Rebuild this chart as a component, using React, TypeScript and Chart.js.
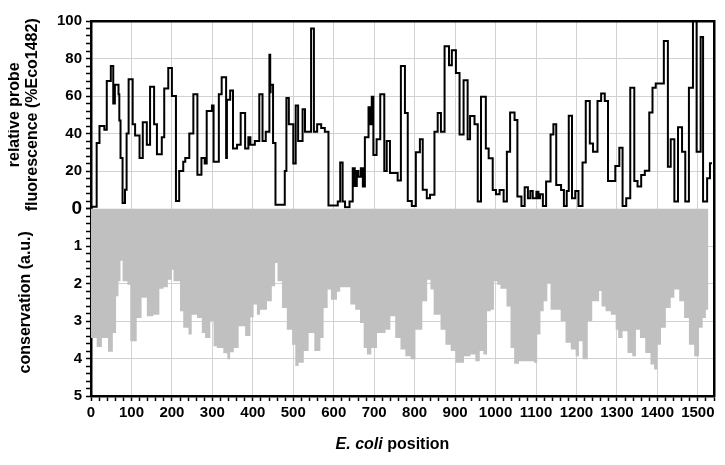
import React, { useEffect, useRef } from 'react';
import { Chart, registerables } from 'chart.js';

Chart.register(...registerables);

// ---- data ----
const fluorPos = [
  0, 14, 21, 33, 39, 49, 55, 56, 57, 59, 68, 70, 73, 78, 84, 88, 93, 103, 109, 120,
  128, 138, 146, 156, 163, 175, 181, 191, 200, 210, 218, 228, 233, 243, 253, 263, 273, 281, 286, 299,
  303, 316, 323, 334, 336, 344, 351, 361, 370, 381, 389, 394, 405, 416, 424, 432, 441, 443, 444, 450,
  456, 479, 483, 489, 500, 506, 512, 523, 529, 544, 551, 559, 569, 578, 587, 610, 616, 622, 628, 639,
  647, 652, 657, 661, 667, 672, 677, 686, 690, 694, 698, 706, 715, 725, 731, 739, 758, 766, 776, 783,
  793, 803, 813, 820, 830, 838, 849, 857, 865, 874, 885, 892, 902, 911, 921, 931, 937, 948, 956, 964,
  976, 983, 993, 1001, 1010, 1020, 1028, 1036, 1047, 1054, 1064, 1072, 1080, 1086, 1092, 1101, 1106, 1110, 1117, 1125,
  1136, 1143, 1150, 1162, 1169, 1176, 1181, 1189, 1197, 1205, 1215, 1223, 1233, 1241, 1252, 1261, 1270, 1278, 1296, 1306,
  1314, 1323, 1333, 1343, 1351, 1360, 1369, 1380, 1388, 1396, 1416, 1426, 1433, 1442, 1451, 1461, 1469, 1478, 1488, 1497,
  1507, 1513, 1523, 1530, 1535,
];
const fluorVal = [
  1, 35, 44, 42, 68, 76, 56, 64, 56, 66, 61, 47, 27, 3, 10, 40, 69, 45, 39, 27,
  46, 34, 65, 45, 29, 38, 64, 75, 60, 4, 20, 25, 27, 40, 61, 18, 27, 24, 52, 55,
  25, 61, 70, 27, 58, 63, 32, 34, 51, 32, 38, 34, 36, 61, 36, 41, 82, 62, 66, 35,
  2, 20, 59, 45, 24, 55, 36, 53, 41, 96, 41, 45, 43, 41, 1.6, 3.7, 24.6, 3.7, 0.7, 3.7,
  21.5, 12, 20, 17, 21.5, 11.7, 38, 54, 45, 59.6, 28.5, 37, 61, 20, 36, 19, 15, 76, 51, 4,
  1.4, 30, 37, 10, 5.5, 7.3, 41, 51, 41, 86.5, 76.4, 84.4, 72.3, 39.5, 68.4, 37, 49.3, 45, 3.7, 59.6,
  32, 26.8, 9.9, 7.6, 9.9, 3.7, 30.3, 51.2, 47.2, 6.4, 1.4, 11.3, 5.5, 9.4, 5.5, 9, 5.5, 7.6, 1.4, 14.4,
  39.5, 45, 12.6, 9.9, 1.4, 9.4, 49.5, 5.5, 9.4, 1.4, 24.6, 57.3, 34.7, 30.3, 57.3, 61.3, 57.3, 14.7, 22.7, 32.4,
  1.4, 5.5, 64.4, 14.7, 11.7, 17.9, 20.2, 51.2, 64.4, 66.7, 89.4, 22.3, 37, 3.7, 43.3, 30.3, 3.7, 64.4, 100, 30.3,
  91.5, 3.7, 16.1, 24.1, 24.1,
];

const consPos = [
  0, 14, 27, 42, 54, 62, 68, 73, 78, 90, 97, 113, 125, 138, 154, 169, 179, 190, 200, 204,
  220, 228, 241, 249, 262, 274, 282, 295, 303, 311, 327, 337, 344, 353, 365, 381, 394, 402, 410, 418,
  435, 447, 455, 461, 472, 484, 497, 505, 513, 526, 538, 552, 567, 575, 585, 593, 608, 616, 641, 653,
  665, 674, 682, 693, 707, 728, 740, 752, 765, 777, 790, 802, 819, 831, 839, 847, 864, 876, 889, 901,
  922, 938, 950, 961, 970, 979, 988, 996, 1004, 1012, 1027, 1037, 1046, 1058, 1095, 1103, 1111, 1119, 1128, 1136,
  1161, 1173, 1186, 1198, 1206, 1215, 1228, 1239, 1256, 1262, 1272, 1285, 1297, 1303, 1314, 1326, 1338, 1347, 1357, 1370,
  1383, 1392, 1400, 1409, 1421, 1433, 1442, 1454, 1466, 1478, 1491, 1503, 1512, 1520, 1526,
];
const consVal = [
  3.45, 3.69, 3.45, 3.82, 3.32, 2.34, 1.94, 1.39, 1.94, 2.03, 3.54, 2.92, 2.38, 2.87, 2.83, 2.14, 2.1, 1.9, 1.63, 1.94,
  2.74, 3.18, 3.36, 2.83, 2.92, 3.32, 3.45, 3.0, 3.67, 3.72, 3.86, 4.02, 3.83, 3.72, 3.14, 3.4, 2.9, 2.56, 2.83, 2.7,
  2.47, 2.07, 1.45, 1.94, 2.65, 3.23, 3.63, 4.2, 4.11, 3.8, 3.32, 3.8, 3.45, 2.65, 2.16, 2.43, 2.22, 2.1, 2.56, 2.7,
  3.05, 3.72, 3.89, 3.72, 3.32, 3.23, 2.87, 3.45, 3.76, 3.94, 4.02, 3.23, 2.47, 1.9, 2.16, 2.83, 3.23, 3.63, 3.8, 4.11,
  3.94, 3.89, 4.07, 3.8, 3.89, 2.74, 2.7, 1.94, 2.03, 2.14, 2.61, 3.72, 4.14, 4.07, 4.11, 3.36, 2.74, 2.47, 1.99, 2.7,
  3.0, 3.58, 3.76, 3.94, 3.54, 4.02, 3.0, 2.47, 2.2, 2.61, 2.74, 2.83, 3.23, 3.45, 3.27, 3.85, 3.94, 3.23, 3.45, 3.85,
  4.16, 4.29, 3.63, 3.18, 2.65, 2.38, 2.16, 2.47, 2.92, 3.63, 3.94, 3.18, 2.92, 2.7, 2.7,
];

// axis ticks: major (labelled) and minor steps
const xMajor = 100;
const xMinor = 20;
const fluorMajor = 20;
const fluorMinor = 4;
const consMajor = 1;
const consMinor = 0.2;

const X_MAX = 1540;
const FONT = '"Liberation Sans", Arial, Helvetica, sans-serif';
const GRID = '#d2d2d2';
const CLEAR = 'rgba(0,0,0,0)';

function stepTicks(min: number, max: number, step: number) {
  const out: { value: number }[] = [];
  const n = Math.round((max - min) / step);
  for (let i = 0; i <= n; i++) out.push({ value: Math.round((min + i * step) * 1000) / 1000 });
  return out;
}
function isMajor(v: number, major: number) {
  const r = v / major;
  return Math.abs(r - Math.round(r)) < 1e-6;
}

const xTitlePlugin = {
  id: 'xTitle',
  afterDraw(chart: any) {
    const ctx = chart.ctx;
    const area = chart.chartArea;
    const part1 = 'E. coli';
    const part2 = ' position';
    const f1 = 'italic bold 16px ' + FONT;
    const f2 = 'bold 16px ' + FONT;
    ctx.save();
    ctx.font = f1;
    const w1 = ctx.measureText(part1).width;
    ctx.font = f2;
    const w2 = ctx.measureText(part2).width;
    const cx = (area.left + area.right) / 2 - 10;
    const ty = 437;
    const startX = cx - (w1 + w2) / 2;
    ctx.fillStyle = '#000';
    ctx.textBaseline = 'middle';
    ctx.textAlign = 'left';
    ctx.font = f1;
    ctx.fillText(part1, startX, ty);
    ctx.font = f2;
    ctx.fillText(part2, startX + w1, ty);
    ctx.restore();
  },
};

const border = { display: true, color: '#000', width: 2.5 };

export default function App() {
  const ref = useRef<HTMLCanvasElement | null>(null);
  useEffect(() => {
    if (!ref.current) return;
    const chart = new Chart(ref.current, {
      type: 'line',
      data: {
        datasets: [
          {
            label: 'fluorescence',
            data: fluorPos.map((p, i) => ({ x: p, y: fluorVal[i] })),
            xAxisID: 'x',
            yAxisID: 'yTop',
            stepped: true,
            borderColor: '#000',
            borderWidth: 2,
            pointRadius: 0,
            fill: false,
          },
          {
            label: 'conservation',
            data: consPos.map((p, i) => ({ x: p, y: consVal[i] })),
            xAxisID: 'x',
            yAxisID: 'yBot',
            stepped: true,
            borderColor: CLEAR,
            borderWidth: 0,
            backgroundColor: '#c0c0c0',
            pointRadius: 0,
            fill: 'origin',
          },
        ],
      },
      options: {
        animation: false,
        responsive: false,
        maintainAspectRatio: false,
        layout: { padding: { top: 12, right: 3, left: 0, bottom: 0 } },
        plugins: { legend: { display: false }, tooltip: { enabled: false } },
        scales: {
          x: {
            type: 'linear',
            position: 'bottom',
            min: 0,
            max: X_MAX,
            afterBuildTicks: (axis: any) => {
              axis.ticks = stepTicks(0, X_MAX, xMinor);
            },
            afterFit: (axis: any) => {
              axis.height = 61;
            },
            ticks: {
              autoSkip: false,
              maxRotation: 0,
              padding: 3,
              color: '#000',
              font: { family: FONT, size: 15, weight: 'bold' },
              callback: (v: any) => (isMajor(v, xMajor) ? String(v) : ''),
            },
            grid: {
              drawTicks: true,
              tickLength: 5,
              tickWidth: 1.5,
              tickColor: '#000',
              color: (c: any) =>
                c.tick && isMajor(c.tick.value, xMajor) && c.tick.value !== 0 ? GRID : CLEAR,
            },
            border,
          },
          xTop: {
            type: 'linear',
            position: 'top',
            display: true,
            min: 0,
            max: X_MAX,
            afterFit: (axis: any) => {
              axis.height = 0;
            },
            ticks: { display: false },
            grid: { display: false, drawTicks: false },
            border,
          },
          yRight: {
            type: 'linear',
            position: 'right',
            display: true,
            min: 0,
            max: 1,
            afterFit: (axis: any) => {
              axis.width = 0;
            },
            ticks: { display: false },
            grid: { display: false, drawTicks: false },
            border,
          },
          yBot: {
            type: 'linear',
            position: 'left',
            stack: 'panels',
            stackWeight: 1,
            reverse: true,
            min: 0,
            max: 5,
            afterBuildTicks: (axis: any) => {
              axis.ticks = stepTicks(0, 5, consMinor);
            },
            afterFit: (axis: any) => {
              axis.width = 83;
            },
            ticks: {
              autoSkip: false,
              padding: 4,
              color: '#000',
              font: (c: any) =>
                c.tick && c.tick.value === 0
                  ? { family: FONT, size: 19, weight: 'bold' }
                  : { family: FONT, size: 15, weight: 'bold' },
              callback: (v: any) => (isMajor(v, consMajor) ? String(v) : ''),
            },
            grid: {
              drawTicks: true,
              tickLength: 5,
              tickWidth: 1.5,
              tickColor: '#000',
              color: (c: any) =>
                c.tick && isMajor(c.tick.value, consMajor) && c.tick.value !== 0 && c.tick.value !== 5
                  ? GRID
                  : CLEAR,
            },
            border,
            title: {
              display: true,
              text: 'conservation (a.u.)',
              color: '#000',
              font: { family: FONT, size: 16, weight: 'bold', lineHeight: 1.1 },
              padding: { top: 9, bottom: 0 },
            },
          },
          yTop: {
            type: 'linear',
            position: 'left',
            stack: 'panels',
            stackWeight: 1,
            min: 0,
            max: 100,
            afterBuildTicks: (axis: any) => {
              axis.ticks = stepTicks(0, 100, fluorMinor);
            },
            afterFit: (axis: any) => {
              axis.width = 83;
            },
            ticks: {
              autoSkip: false,
              padding: 4,
              color: '#000',
              font: { family: FONT, size: 15, weight: 'bold' },
              callback: (v: any) => (isMajor(v, fluorMajor) && v !== 0 ? String(v) : ''),
            },
            grid: {
              drawTicks: true,
              tickLength: 5,
              tickWidth: 1.5,
              tickColor: '#000',
              color: (c: any) =>
                c.tick && isMajor(c.tick.value, fluorMajor) && c.tick.value !== 0 && c.tick.value !== 100
                  ? GRID
                  : CLEAR,
            },
            border,
            title: {
              display: true,
              text: ['relative probe', 'fluorescence (%Eco1482)'],
              color: '#000',
              font: { family: FONT, size: 16, weight: 'bold', lineHeight: 1.1 },
              padding: { top: -2, bottom: 0 },
            },
          },
        },
      },
      plugins: [xTitlePlugin],
    } as any);
    return () => chart.destroy();
  }, []);
  return (
    <div style={{ width: 709, height: 449 }}>
      <canvas ref={ref} width={709} height={449} style={{ display: 'block' }} />
    </div>
  );
}
